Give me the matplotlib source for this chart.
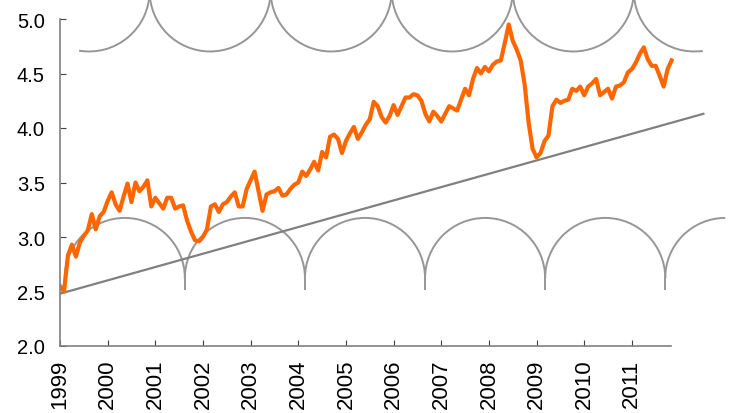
import numpy as np
import matplotlib
matplotlib.use('Agg')
import matplotlib.pyplot as plt
from matplotlib.patches import Arc

plt.rcParams['font.family'] = ['Liberation Sans', 'DejaVu Sans']

# monthly values, Jan 1999 .. Nov 2011
y1999 = [2.55, 2.50, 2.83, 2.93, 2.82, 2.95, 3.01, 3.06, 3.21, 3.07, 3.19, 3.23]
y2000 = [3.33, 3.41, 3.30, 3.24, 3.37, 3.49, 3.32, 3.50, 3.42, 3.46, 3.52, 3.28]
y2001 = [3.36, 3.31, 3.26, 3.36, 3.36, 3.26, 3.28, 3.29, 3.15, 3.05, 2.97, 2.96]
y2002 = [3.00, 3.07, 3.28, 3.30, 3.23, 3.30, 3.32, 3.37, 3.41, 3.28, 3.28, 3.44]
y2003 = [3.52, 3.60, 3.42, 3.24, 3.39, 3.41, 3.42, 3.45, 3.38, 3.39, 3.44, 3.48]
y2004 = [3.50, 3.60, 3.56, 3.62, 3.69, 3.61, 3.78, 3.73, 3.92, 3.94, 3.90, 3.77]
y2005 = [3.88, 3.95, 4.01, 3.90, 3.96, 4.03, 4.08, 4.24, 4.20, 4.10, 4.05, 4.11]
y2006 = [4.21, 4.12, 4.20, 4.28, 4.28, 4.31, 4.30, 4.25, 4.13, 4.06, 4.15, 4.11]
y2007 = [4.06, 4.13, 4.20, 4.18, 4.16, 4.26, 4.36, 4.30, 4.45, 4.55, 4.50, 4.56]
y2008 = [4.52, 4.58, 4.61, 4.62, 4.78, 4.95, 4.80, 4.72, 4.62, 4.40, 4.05, 3.81]
y2009 = [3.73, 3.77, 3.88, 3.93, 4.20, 4.26, 4.23, 4.25, 4.26, 4.36, 4.34, 4.38]
y2010 = [4.30, 4.38, 4.41, 4.45, 4.30, 4.33, 4.36, 4.27, 4.38, 4.39, 4.42, 4.51]
y2011 = [4.54, 4.60, 4.68, 4.74, 4.63, 4.57, 4.57, 4.48, 4.38, 4.54, 4.62]

series = (y1999 + y2000 + y2001 + y2002 + y2003 + y2004 + y2005 + y2006
          + y2007 + y2008 + y2009 + y2010 + y2011)
months = 1999 + np.arange(len(series)) / 12.0

trend_x = [1999.0, 2012.5]
trend_y = [2.48, 4.13]

years = list(range(1999, 2012))
yticks = [2.0, 2.5, 3.0, 3.5, 4.0, 4.5, 5.0]

# scalloped bands above and below
top_cx = [1999.61, 2002.15, 2004.69, 2007.23, 2009.77, 2012.31]
top_cy = 5.257
bot_cx = [2000.36, 2002.88, 2005.40, 2007.92, 2010.44, 2012.96]
bot_cy = 2.624

fig = plt.figure(figsize=(7.31, 4.14), dpi=100)
ax = fig.add_axes([60/731., 67/414., 671/731., 347/414.])
ax.set_xlim(1999, 2013.08)
ax.set_ylim(2.0, 2.0 + 347/109.)

arc_col = '#969696'
rx, ry = 1.27, 0.555
for i, cx in enumerate(top_cx):
    t1, t2 = 180, 360
    if i == 0:
        t1 = 249
    if i == len(top_cx) - 1:
        t2 = 288
    ax.add_patch(Arc((cx, top_cy), 2*rx, 2*ry, theta1=t1, theta2=t2,
                     color=arc_col, lw=1.4))

rx2, ry2 = 1.26, 0.551
for i, cx in enumerate(bot_cx):
    t1, t2 = 0, 180
    if i == len(bot_cx) - 1:
        t1 = 90
    ax.add_patch(Arc((cx, bot_cy), 2*rx2, 2*ry2, theta1=t1, theta2=t2,
                     color=arc_col, lw=1.4))
stubs = [bot_cx[0] - rx2] + [c + rx2 for c in bot_cx[:-1]]
ax.vlines(stubs, 2.51, bot_cy, color=arc_col, lw=1.4)

ax.plot(trend_x, trend_y, color='#808080', lw=1.6)
ax.plot(months, series, color='#ff6600', lw=3.0, solid_joinstyle='round')

for s in ['top', 'right']:
    ax.spines[s].set_visible(False)
ax.spines['left'].set_bounds(2.0, 5.0)
ax.spines['bottom'].set_bounds(1999, 2011.83)
for s in ['left', 'bottom']:
    ax.spines[s].set_color('#808080')
    ax.spines[s].set_linewidth(1.2)

ax.set_xticks(years)
ax.set_xticklabels([str(y) for y in years], rotation=90)
ax.set_yticks(yticks)
ax.set_yticklabels(['%.1f' % v for v in yticks])
ax.tick_params(axis='both', direction='in', length=4, color='#404040',
               labelcolor='black')
ax.tick_params(axis='x', pad=9, labelsize=16)
ax.tick_params(axis='y', pad=11, labelsize=14.5)

plt.savefig('out.png', dpi=100)
